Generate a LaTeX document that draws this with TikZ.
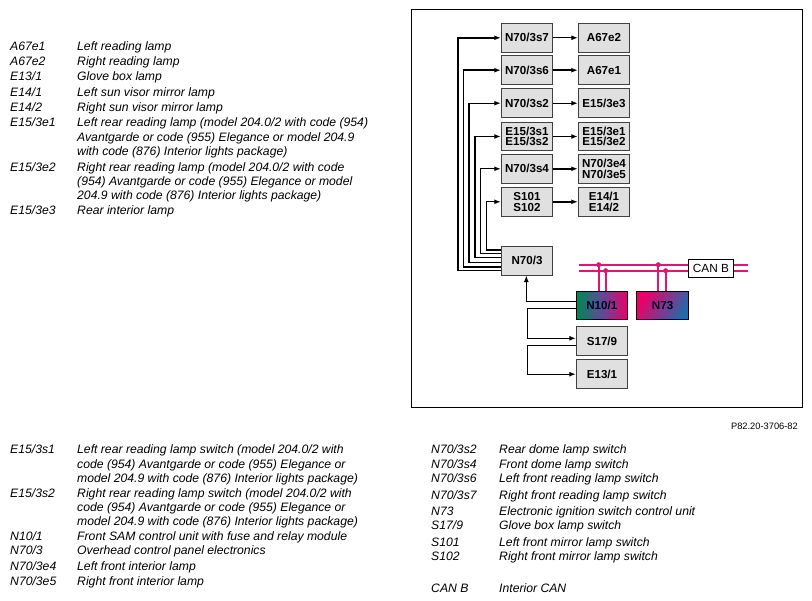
\documentclass[tikz,border=0pt]{standalone}
\usepackage{fontspec}
\setmainfont{Liberation Sans}
\usetikzlibrary{arrows.meta}
\newcounter{tc}
\definecolor{boxgray}{gray}{0.88}
\definecolor{canpink}{RGB}{225,20,115}
\definecolor{sgreen}{RGB}{0,135,85}
\definecolor{spink}{RGB}{235,0,105}
\definecolor{sblue}{RGB}{35,105,170}
\tikzset{
  cbox/.style={draw=black!75,line width=1pt,fill=boxgray,minimum width=51.5pt,minimum height=28.6pt,inner sep=0pt,align=center,font=\fontsize{11.6}{10.6}\selectfont\bfseries},
  wire/.style={draw=black,line width=1pt},
  wirek/.style={draw=black,line width=1.6pt},
  arr/.style={-{Latex[length=6.5pt,width=5pt]}},
  canbus/.style={draw=canpink,line width=2pt},
  legend/.style={anchor=base west,inner sep=0pt,font=\fontsize{12.2}{14}\selectfont\itshape},
  dot/.style={circle,fill=canpink,inner sep=0pt,minimum size=5pt},
}
\newcommand\lbl[3]{\stepcounter{tc}\node[legend] (t\arabic{tc}) at (#1,#2+5) {#3};}
\newcommand\rowl[3]{\lbl{10}{#1}{#2}\lbl{77}{#1}{#3}}
\newcommand\rowc[1]{\lbl{77}{#1}}
\newcommand\rowr[3]{\lbl{431}{#1}{#2}\lbl{499}{#1}{#3}}
\begin{document}
\begin{tikzpicture}[x=1pt,y=-1pt]
\useasboundingbox[fill=white] (0,0) rectangle (812,601);
\node[draw=black,line width=1pt,minimum width=391pt,minimum height=398pt,inner sep=0pt] (frame) at (606.5,209) {};
% left boxes
\node[cbox] (s7) at (527,37.8) {N70/3s7};
\node[cbox] (s6) at (527,70.2) {N70/3s6};
\node[cbox] (s2) at (527,103.2) {N70/3s2};
\node[cbox] (e1s) at (527,136.5) {E15/3s1\\E15/3s2};
\node[cbox] (s4) at (527,168.8) {N70/3s4};
\node[cbox] (s101) at (527,201.8) {S101\\S102};
% right boxes
\node[cbox] (a2) at (604,37.8) {A67e2};
\node[cbox] (a1) at (604,70.2) {A67e1};
\node[cbox] (e3) at (604,103.2) {E15/3e3};
\node[cbox] (e12) at (604,136.5) {E15/3e1\\E15/3e2};
\node[cbox] (e45) at (604,168.8) {N70/3e4\\N70/3e5};
\node[cbox] (e14) at (604,201.8) {E14/1\\E14/2};
% lower boxes
\node[cbox] (n703) at (527,260.8) {N70/3};
\node[cbox,draw=black,left color=sgreen,right color=spink,middle color=sblue!70!spink,text=black!85!blue] (n10) at (601.8,305.5) {N10/1};
\node[cbox,draw=black,shading=axis,left color=spink,right color=sblue,shading angle=60,text=black!85!blue,fill=none] (n73) at (662.6,305.5) {N73};
\node[cbox] (s17) at (602,341.2) {S17/9};
\node[cbox] (e13) at (602,374.2) {E13/1};
% pairs
\draw[wire,arr] (s7) -- (a2);
\draw[wirek,arr] (s6) -- (a1);
\draw[wire,arr] (s2) -- (e3);
\draw[wirek,arr] (e1s) -- (e12);
\draw[wirek,arr] (s4) -- (e45);
\draw[wirek,arr] (s101) -- (e14);
% bus from N70/3
\coordinate (v1) at (457.7,270.7);
\coordinate (v2) at (463.4,267);
\coordinate (v3) at (469,262.3);
\coordinate (v4) at (474.9,257.7);
\coordinate (v5) at (480.8,253.7);
\coordinate (v6) at (486.7,250);
\draw[wirek,arr] (n703.west |- v1) -- (v1) |- (s7);
\draw[wirek,arr] (n703.west |- v2) -- (v2) |- (s6);
\draw[wire,line width=1.2pt,arr] (n703.west |- v3) -- (v3) |- (s2);
\draw[wire,line width=1.2pt,arr] (n703.west |- v4) -- (v4) |- (e1s);
\draw[wire,line width=1.2pt,arr] (n703.west |- v5) -- (v5) |- (s4);
\draw[wire,line width=1.2pt,arr] (n703.west |- v6) -- (v6) |- (s101);
% N10/1 and lower connectors
\coordinate (n10a) at (576,301.7);
\coordinate (n10b) at (576,308.7);
\coordinate (s17a) at (576,345.3);
\coordinate (j1) at (527,308.7);
\coordinate (j2) at (527,345.3);
\coordinate (tipa) at (526.3,301.7);
\draw[wire,arr] (n10a) -- (tipa) -- (tipa |- n703.south);
\draw[wire,arr] (n10b) -- (j1) |- (s17.west |- 0,338.3);
\draw[wire,arr] (s17a) -- (j2) |- (e13);
% CAN
\node[draw=black,fill=white,line width=1pt,minimum width=44.6pt,minimum height=17.7pt,inner sep=0pt,font=\fontsize{11.8}{13}\selectfont] (can) at (711,268.2) {CAN B};
\coordinate (c1) at (579.3,264.7);
\coordinate (c2) at (579.3,270.7);
\coordinate (c3) at (748.3,264.7);
\coordinate (c4) at (748.3,270.7);
\draw[canbus] (c1) -- (c1 -| can.west);
\draw[canbus] (c2) -- (c2 -| can.west);
\draw[canbus] (c3) -- (c3 -| can.east);
\draw[canbus] (c4) -- (c4 -| can.east);
\coordinate (d1) at (598.7,264.7);
\coordinate (d2) at (605.7,270.7);
\coordinate (d3) at (658.3,264.7);
\coordinate (d4) at (665.7,270.7);
\node[dot] (dd1) at (d1) {};
\node[dot] (dd2) at (d2) {};
\node[dot] (dd3) at (d3) {};
\node[dot] (dd4) at (d4) {};
\draw[canbus] (dd1.center) -- (d1 |- n10.north);
\draw[canbus] (dd2.center) -- (d2 |- n10.north);
\draw[canbus] (dd3.center) -- (d3 |- n73.north);
\draw[canbus] (dd4.center) -- (d4 |- n73.north);
% legend upper left
\rowl{46}{A67e1}{Left reading lamp}
\rowl{61}{A67e2}{Right reading lamp}
\rowl{76}{E13/1}{Glove box lamp}
\rowl{92}{E14/1}{Left sun visor mirror lamp}
\rowl{107}{E14/2}{Right sun visor mirror lamp}
\rowl{122}{E15/3e1}{Left rear reading lamp (model 204.0/2 with code (954)}
\rowc{137}{Avantgarde or code (955) Elegance or model 204.9}
\rowc{151}{with code (876) Interior lights package)}
\rowl{167}{E15/3e2}{Right rear reading lamp (model 204.0/2 with code}
\rowc{181}{(954) Avantgarde or code (955) Elegance or model}
\rowc{195}{204.9 with code (876) Interior lights package)}
\rowl{210}{E15/3e3}{Rear interior lamp}
% legend lower left
\rowl{449}{E15/3s1}{Left rear reading lamp switch (model 204.0/2 with}
\rowc{464}{code (954) Avantgarde or code (955) Elegance or}
\rowc{478}{model 204.9 with code (876) Interior lights package)}
\rowl{493}{E15/3s2}{Right rear reading lamp switch (model 204.0/2 with}
\rowc{507}{code (954) Avantgarde or code (955) Elegance or}
\rowc{521}{model 204.9 with code (876) Interior lights package)}
\rowl{535.5}{N10/1}{Front SAM control unit with fuse and relay module}
\rowl{550}{N70/3}{Overhead control panel electronics}
\rowl{566}{N70/3e4}{Left front interior lamp}
\rowl{581}{N70/3e5}{Right front interior lamp}
% legend right
\rowr{449}{N70/3s2}{Rear dome lamp switch}
\rowr{464}{N70/3s4}{Front dome lamp switch}
\rowr{478}{N70/3s6}{Left front reading lamp switch}
\rowr{495}{N70/3s7}{Right front reading lamp switch}
\rowr{510.5}{N73}{Electronic ignition switch control unit}
\rowr{525}{S17/9}{Glove box lamp switch}
\rowr{541.5}{S101}{Left front mirror lamp switch}
\rowr{556}{S102}{Right front mirror lamp switch}
\rowr{588}{CAN B}{Interior CAN}
\node[anchor=base east,inner sep=0pt,font=\fontsize{9.3}{10}\selectfont] (code) at (798,430) {P82.20-3706-82};
\end{tikzpicture}
\end{document}
